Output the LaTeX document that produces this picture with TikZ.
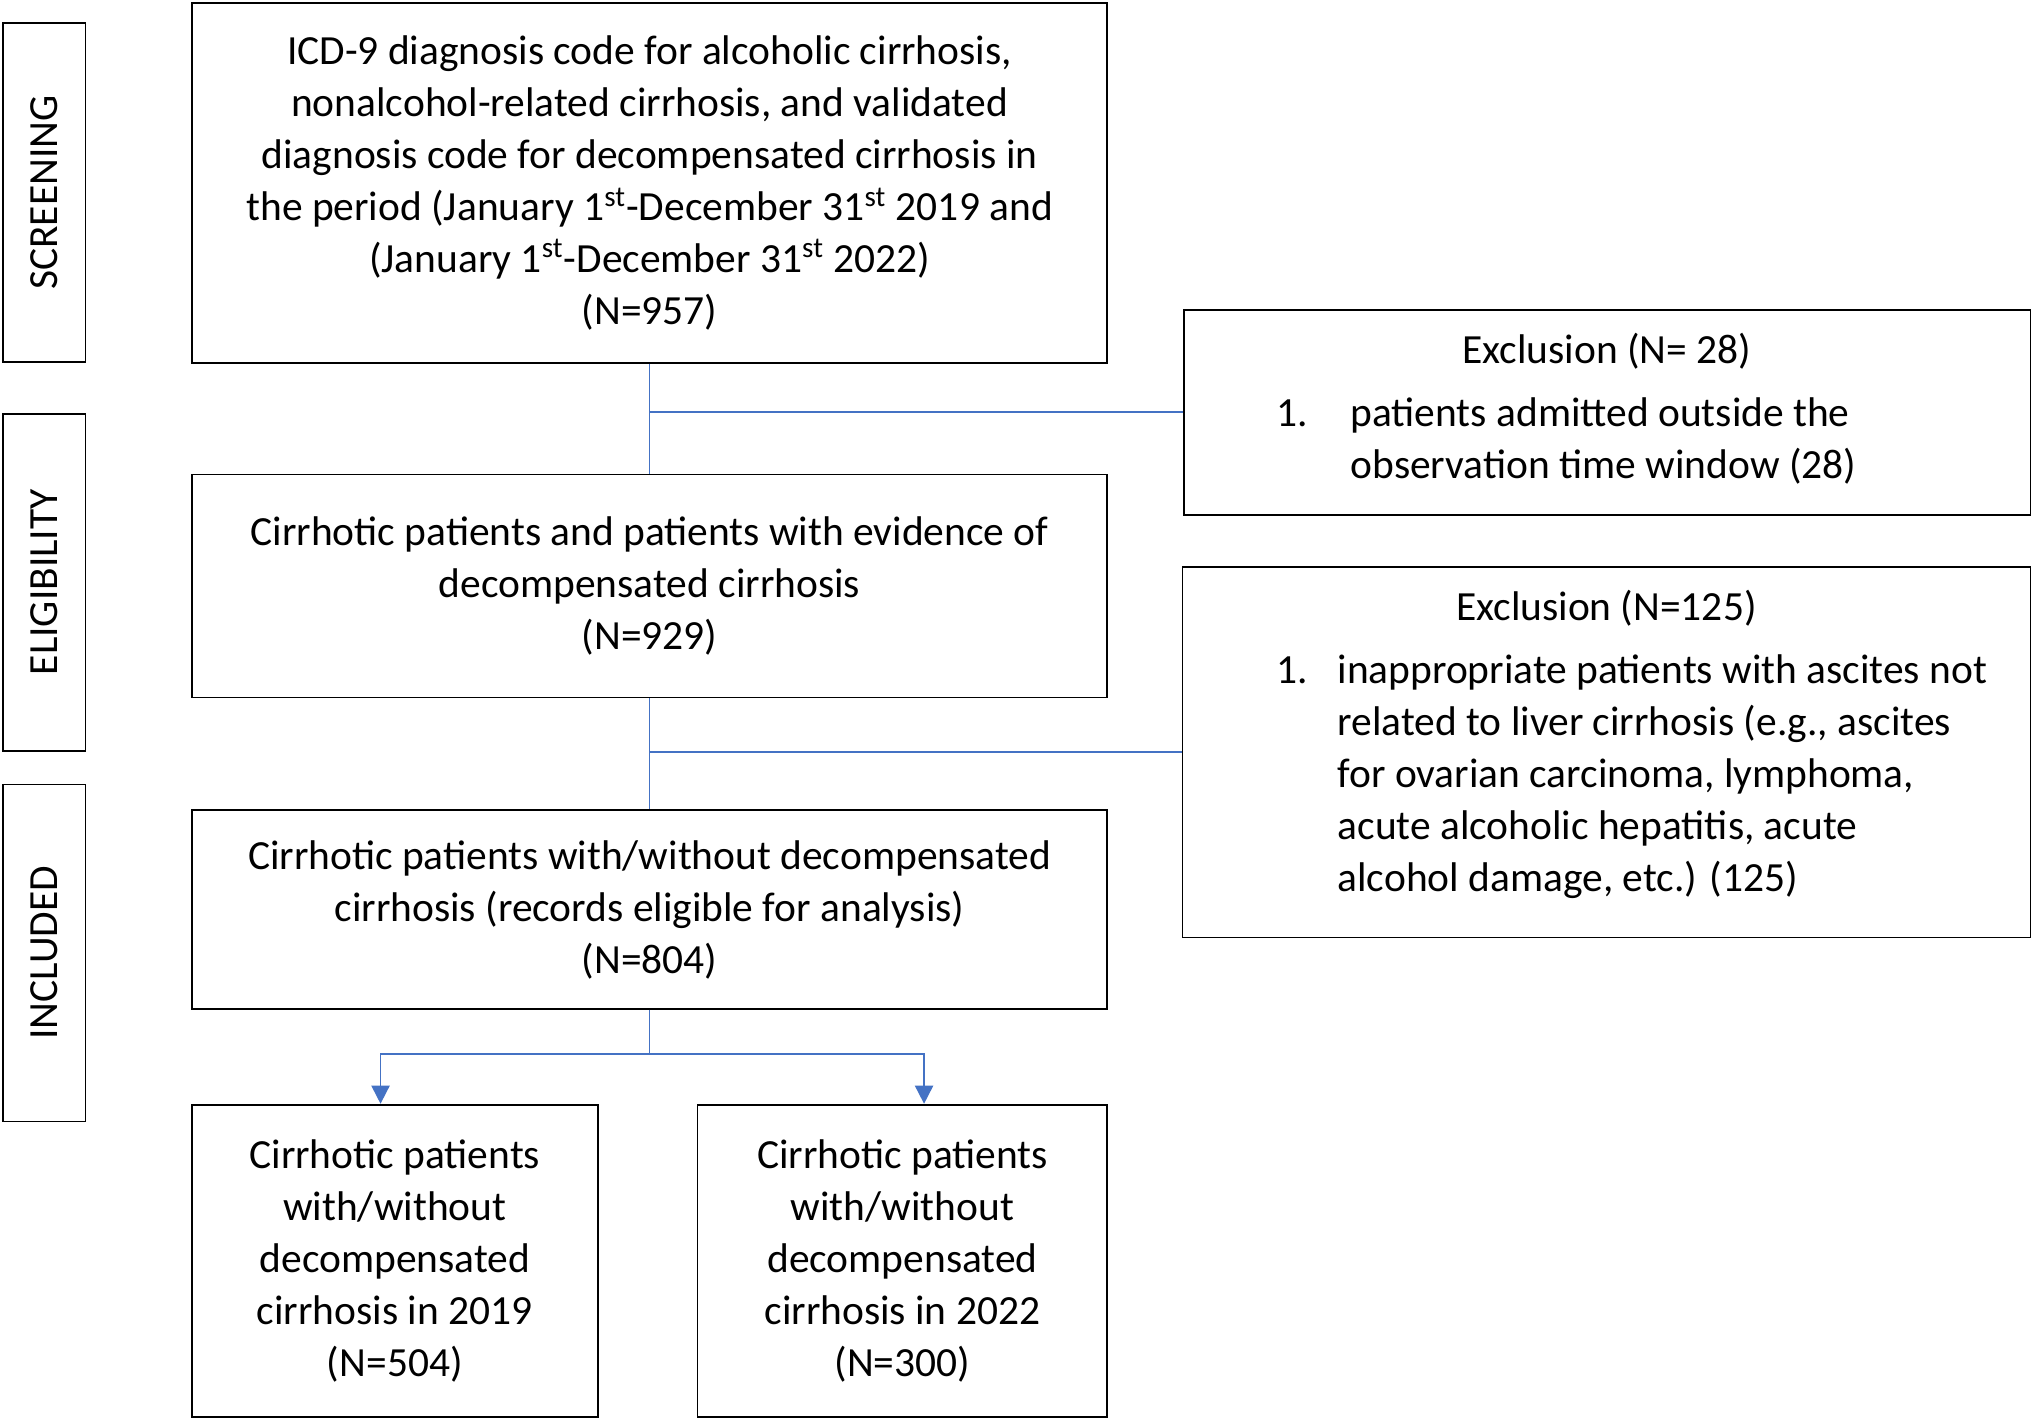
\documentclass[tikz,border=0pt]{standalone}
\usepackage{fontspec}
\setmainfont{Carlito}
\definecolor{linkblue}{RGB}{68,114,196}
\tikzset{
  box/.style={draw, thick, align=center, inner sep=2pt},
  side/.style={draw, thick, minimum width=1.28cm, minimum height=5.2cm},
  link/.style={linkblue, thick},
  arr/.style={linkblue, thick, -{Triangle[length=8pt,width=8pt]}}
}
\usetikzlibrary{arrows.meta}
\begin{document}
\begin{tikzpicture}[font=\fontsize{18.2}{22.8}\selectfont]
  \useasboundingbox (0,0) rectangle (31.36,-21.9);
  % Phasen
  \node[side, minimum height=5.22cm] (scr) at (0.68,-2.97) {};
  \node[rotate=90] at (scr) {SCREENING};
  \node[side] (elig) at (0.68,-8.98) {};
  \node[rotate=90] at (elig) {ELIGIBILITY};
  \node[side] (incl) at (0.68,-14.7) {};
  \node[rotate=90] at (incl) {INCLUDED};

  % Hauptkette
  \node[box, minimum width=14.12cm, minimum height=5.56cm] (top) at (10.02,-2.82)
    {ICD-9 diagnosis code for alcoholic cirrhosis,\\
     nonalcohol-related cirrhosis, and validated\\
     diagnosis code for decompensated cirrhosis in\\
     the period (January 1\textsuperscript{st}-December 31\textsuperscript{st} 2019 and\\
     (January 1\textsuperscript{st}-December 31\textsuperscript{st} 2022)\\
     (N=957)};
  \node[box, minimum width=14.12cm, minimum height=3.44cm] (elg) at (10.02,-9.04)
    {Cirrhotic patients and patients with evidence of\\
     decompensated cirrhosis\\ (N=929)};
  \node[box, minimum width=14.12cm, minimum height=3.06cm] (inc) at (10.02,-14.03)
    {Cirrhotic patients with/without decompensated\\
     cirrhosis (records eligible for analysis)\\ (N=804)};
  \node[box, minimum width=6.26cm, minimum height=4.82cm] (y19) at (6.09,-19.45)
    {Cirrhotic patients\\ with/without\\ decompensated\\ cirrhosis in 2019\\ (N=504)};
  \node[box, minimum width=6.32cm, minimum height=4.82cm] (y22) at (13.92,-19.45)
    {Cirrhotic patients\\ with/without\\ decompensated\\ cirrhosis in 2022\\ (N=300)};

  % Ausschluss
  \node[box, minimum width=13.06cm, minimum height=3.16cm] (ex1) at (24.79,-6.36) {};
  \node[anchor=north] at ([yshift=-0.25cm]ex1.north) {Exclusion (N= 28)};
  \node[anchor=north west, inner sep=0pt] at ([xshift=1.44cm,yshift=-1.25cm]ex1.north west)
    {\begin{tabular}{@{}p{1.14cm}@{}l@{}}
     1. & patients admitted outside the\\
        & observation time window (28)
     \end{tabular}};
  \node[box, minimum width=13.08cm, minimum height=5.72cm] (ex2) at (24.78,-11.6) {};
  \node[anchor=north] at ([yshift=-0.25cm]ex2.north) {Exclusion (N=125)};
  \node[anchor=north west, inner sep=0pt] at ([xshift=1.46cm,yshift=-1.25cm]ex2.north west)
    {\begin{tabular}{@{}p{0.94cm}@{}l@{}}
     1. & inappropriate patients with ascites not\\
        & related to liver cirrhosis (e.g., ascites\\
        & for ovarian carcinoma, lymphoma,\\
        & acute alcoholic hepatitis, acute\\
        & alcohol damage, etc.) (125)
     \end{tabular}};

  % Verbindungen
  \draw[link] (top.south) -- (elg.north);
  \draw[link] (top.south |- ex1.west) -- (ex1.west);
  \draw[link] (elg.south) -- (inc.north);
  \draw[link] (elg.south |- ex2.west) -- (ex2.west);
  \coordinate (split) at ([yshift=-0.68cm]inc.south);
  \draw[link] (inc.south) -- (split);
  \draw[arr] (split) -| ([xshift=-0.22cm]y19.north);
  \draw[arr] (split) -| ([xshift=-2.84cm]y22.north east);
\end{tikzpicture}
\end{document}
